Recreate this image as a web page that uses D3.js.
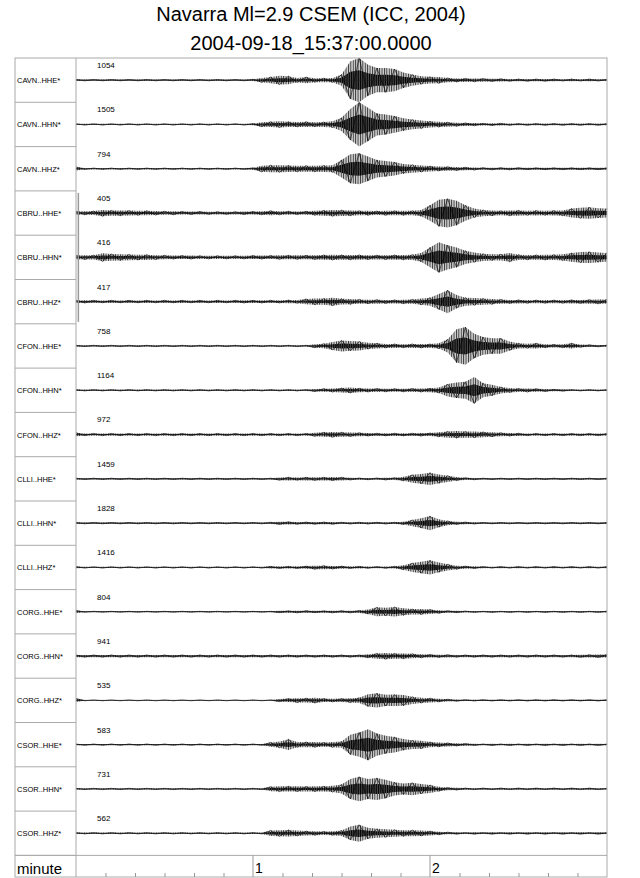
<!DOCTYPE html>
<html>
<head>
<meta charset="utf-8">
<script src="https://cdn.jsdelivr.net/npm/d3@7"></script>
<style>
  body { margin: 0; background: #fff; }
  text { font-family: "Liberation Sans", Arial, sans-serif; }
</style>
</head>
<body>
<div id="chart"></div>
<script>
// envelope of each trace, one value every 3 s (0..180 s), amplitude in % of half a row
var sampleStep = 3;
var stations = ["CAVN..HHE*", "CAVN..HHN*", "CAVN..HHZ*",
                "CBRU..HHE*", "CBRU..HHN*", "CBRU..HHZ*",
                "CFON..HHE*", "CFON..HHN*", "CFON..HHZ*",
                "CLLI..HHE*", "CLLI..HHN*", "CLLI..HHZ*",
                "CORG..HHE*", "CORG..HHN*", "CORG..HHZ*",
                "CSOR..HHE*", "CSOR..HHN*", "CSOR..HHZ*"];
var maxCounts = [1054, 1505, 794, 405, 416, 417, 758, 1164, 972,
                 1459, 1828, 1416, 804, 941, 535, 583, 731, 562];

var cavnHHE = [3,3,3,3,3,3,3,3,3,3,3,3,3,3,3,3,3,3,3,3,4,10,14,20,18,10,14,9,9,10,25,85,100,70,55,55,50,35,25,18,15,14,10,8,8,7,7,6,6,5,5,5,5,5,5,4,5,4,5,4,4];
var cavnHHN = [3,3,3,3,3,3,3,3,3,3,3,3,3,3,3,3,3,3,3,3,4,10,12,14,12,11,12,10,11,14,30,70,100,75,50,45,38,28,22,18,14,12,10,8,7,6,5,5,5,4,4,4,4,4,4,4,4,4,4,4,4];
var cavnHHZ = [8,3,3,3,3,3,3,3,3,3,3,3,3,3,3,3,3,3,3,3,4,14,16,16,15,14,14,14,15,16,40,65,70,55,40,35,30,22,18,15,12,10,9,8,7,6,5,5,5,5,5,4,4,4,4,4,4,4,4,4,4];
var cbruHHE = [8,8,9,14,12,12,11,10,10,9,8,8,7,7,7,6,6,6,6,7,7,8,10,8,8,7,8,10,12,14,13,12,10,10,9,10,10,10,10,14,35,60,65,55,35,20,14,12,10,12,12,10,11,10,11,12,20,24,26,22,20];
var cbruHHN = [9,10,10,18,15,14,13,12,12,10,9,8,8,8,7,7,7,7,7,7,8,8,8,9,9,9,9,10,11,12,11,11,11,10,10,10,11,11,12,20,45,68,55,45,30,22,16,14,14,20,12,11,11,12,12,14,20,24,25,22,20];
var cbruHHZ = [6,6,6,5,6,5,6,5,6,5,6,5,6,5,6,5,6,5,6,6,6,6,6,6,7,7,12,14,14,18,13,12,10,9,9,8,8,9,10,14,18,35,52,30,18,16,14,12,10,8,8,7,7,7,7,7,8,8,9,10,10];
var cfonHHE = [3,3,3,3,3,3,3,3,3,3,3,3,3,3,3,3,3,3,3,3,3,3,3,3,3,3,3,8,10,18,25,22,20,14,12,9,9,8,9,9,9,12,30,75,85,55,40,35,35,20,12,10,12,8,7,8,12,6,5,4,4];
var cfonHHN = [3,3,3,3,3,3,3,3,3,3,3,3,3,3,3,3,3,3,3,3,3,3,3,3,3,3,3,6,7,8,10,12,9,8,8,7,7,7,8,8,9,12,28,35,38,60,32,25,15,10,8,8,7,6,4,4,3,3,3,3,3];
var cfonHHZ = [8,5,5,5,5,5,5,5,5,5,5,5,5,5,5,5,5,5,5,5,5,5,5,5,5,5,5,8,10,12,10,9,8,7,6,6,6,6,6,7,7,10,14,16,14,14,12,10,8,7,6,5,5,5,5,5,5,5,5,5,5];
var clliHHE = [3,3,3,3,3,3,3,3,3,3,3,3,3,3,3,3,3,3,3,3,3,3,3,6,7,6,7,7,7,8,7,5,4,4,4,5,5,9,18,22,28,20,14,8,5,4,3,3,3,3,3,3,3,3,3,3,3,3,3,3,3];
var clliHHN = [3,3,3,3,3,3,3,3,3,3,3,3,3,3,3,3,3,3,3,3,3,3,4,6,6,5,5,5,5,5,4,4,4,4,4,4,4,6,14,22,32,18,10,6,5,4,3,3,3,3,3,3,3,3,3,3,3,3,3,3,3];
var clliHHZ = [4,3,3,3,3,3,3,3,3,3,3,3,3,3,3,3,3,3,3,3,3,3,5,5,5,5,6,8,8,7,6,5,5,4,4,4,5,10,20,26,32,22,14,8,6,5,4,3,4,3,4,3,4,3,4,3,4,3,4,3,4];
var corgHHE = [6,2,2,2,2,2,2,2,2,2,2,2,2,2,2,2,2,2,2,2,2,2,2,4,4,5,5,4,4,5,5,5,6,10,20,18,22,16,12,12,10,7,5,4,3,3,2,3,2,3,2,3,2,3,2,3,2,3,2,3,3];
var corgHHN = [5,5,5,5,5,5,5,5,5,5,5,5,5,5,5,5,5,5,5,5,5,5,5,5,5,5,5,5,5,5,5,5,5,8,12,14,12,12,10,8,7,6,6,5,5,5,5,5,5,5,5,5,5,5,5,5,5,6,6,7,7];
var corgHHZ = [8,2,2,2,2,2,2,2,2,2,2,2,2,2,2,2,2,2,2,2,2,2,2,6,8,10,10,12,8,7,8,10,12,28,32,25,26,24,16,12,10,7,5,4,3,3,3,3,3,3,3,3,3,3,3,3,3,3,3,3,3];
var csorHHE = [3,3,3,3,3,3,3,3,3,3,3,3,3,3,3,3,3,3,3,3,3,3,10,14,24,12,12,12,10,12,14,45,55,70,50,40,35,25,20,18,12,10,8,6,5,4,3,4,3,4,3,4,3,4,3,4,3,4,3,4,3];
var csorHHN = [3,3,3,3,3,3,3,3,3,3,3,3,3,3,3,3,3,3,3,3,3,3,10,12,12,12,11,12,12,14,20,45,55,45,50,42,30,25,28,22,18,10,6,5,4,3,4,3,4,3,4,3,4,3,4,3,4,3,4,3,3];
var csorHHZ = [3,3,3,3,3,3,3,3,3,3,3,3,3,3,3,3,3,3,3,3,3,3,12,14,15,12,10,9,8,9,12,30,38,25,20,18,16,14,14,12,10,7,5,4,3,4,3,4,3,4,3,4,3,4,3,4,3,4,3,4,3];

var traces = [cavnHHE, cavnHHN, cavnHHZ, cbruHHE, cbruHHN, cbruHHZ,
              cfonHHE, cfonHHN, cfonHHZ, clliHHE, clliHHN, clliHHZ,
              corgHHE, corgHHN, corgHHZ, csorHHE, csorHHN, csorHHZ];

var minuteTicks = [1, 2];

// Width and height
var w = 640;
var h = 878;
var padL = 15, labelW = 61, padR = 607, plotTop = 58;
var plotBottom = 855.4;

var svg = d3.select("#chart")
    .append("svg")
    .attr("width", w)
    .attr("height", h);

// hatch patterns to imitate dense oscillation
var defs = svg.append("defs");
var patL = defs.append("pattern")
    .attr("id", "wigLight")
    .attr("patternUnits", "userSpaceOnUse")
    .attr("width", 2.4)
    .attr("height", 4);
patL.append("rect").attr("width", 2.4).attr("height", 4).attr("fill", "#d0d0d0");
patL.append("rect").attr("width", 0.9).attr("height", 4).attr("fill", "#333");
var patD = defs.append("pattern")
    .attr("id", "wigDark")
    .attr("patternUnits", "userSpaceOnUse")
    .attr("width", 1.8)
    .attr("height", 4);
patD.append("rect").attr("width", 1.8).attr("height", 4).attr("fill", "#555");
patD.append("rect").attr("width", 1).attr("height", 4).attr("fill", "#000");

// time in seconds
var x = d3.scaleLinear().domain([0, 180]).range([padL + labelW, padR]);
var y = d3.scaleBand().domain(stations).range([plotTop, plotBottom]);

svg.append("text")
    .attr("x", (padL + padR) / 2)
    .attr("y", 21)
    .attr("text-anchor", "middle")
    .attr("font-size", "20px")
    .text("Navarra Ml=2.9 CSEM (ICC, 2004)");
svg.append("text")
    .attr("x", (padL + padR) / 2)
    .attr("y", 50)
    .attr("text-anchor", "middle")
    .attr("font-size", "20px")
    .text("2004-09-18_15:37:00.0000");

// label boxes
svg.selectAll("line.sep")
    .data(stations)
    .enter()
    .append("line")
    .attr("class", "sep")
    .attr("x1", padL)
    .attr("x2", padL + labelW)
    .attr("y1", function(d) { return y(d) + y.bandwidth(); })
    .attr("y2", function(d) { return y(d) + y.bandwidth(); })
    .attr("stroke", "#aaa");

var rows = svg.selectAll("g.row")
    .data(stations)
    .enter()
    .append("g")
    .attr("class", "row");

rows.append("text")
    .attr("x", padL + 2)
    .attr("y", function(d) { return y(d) + y.bandwidth() / 2 + 3; })
    .attr("font-size", "7.5px")
    .text(function(d) { return d; });

rows.append("text")
    .attr("x", x(0) + 21)
    .attr("y", function(d) { return y(d) + 10; })
    .attr("font-size", "8px")
    .text(function(d, i) { return maxCounts[i]; });

var half = y.bandwidth() / 2;
rows.each(function(st, i) {
  var env = traces[i];
  var mid = y(st) + half;
  var g = d3.select(this);
  var a = d3.scaleLinear().domain([-100, 100]).range([mid + half, mid - half]);
  var outer = d3.area()
      .x(function(d, j) { return x(j * sampleStep); })
      .y0(function(d) { return a(-d); })
      .y1(function(d) { return a(d); });
  var inner = d3.area()
      .x(function(d, j) { return x(j * sampleStep); })
      .y0(function(d) { return a(-d * 0.45); })
      .y1(function(d) { return a(d * 0.45); });
  // zigzag through the envelope samples, alternating sides
  var wiggle = d3.line()
      .x(function(d, j) { return x(j * sampleStep); })
      .y(function(d, j) { return a(j % 2 ? -d : d); });
  g.append("path").attr("d", outer(env)).attr("fill", "url(#wigLight)");
  g.append("path").attr("d", inner(env)).attr("fill", "url(#wigDark)");
  g.append("path").attr("d", wiggle(env))
      .attr("fill", "none")
      .attr("stroke", "#000")
      .attr("stroke-width", 0.6);
  g.append("line")
      .attr("x1", x(0)).attr("x2", x(180))
      .attr("y1", mid).attr("y2", mid)
      .attr("stroke", "#222")
      .attr("stroke-width", 0.5);
});

// start marker of CBRU traces
svg.append("line")
    .attr("x1", x(0.8)).attr("x2", x(0.8))
    .attr("y1", y("CBRU..HHE*") + 2)
    .attr("y2", y("CBRU..HHZ*") + y.bandwidth() - 2)
    .attr("stroke", "#999")
    .attr("stroke-width", 1.5);

// frame
svg.append("rect")
    .attr("x", padL).attr("y", plotTop)
    .attr("width", padR - padL).attr("height", h - 1 - plotTop)
    .attr("fill", "none").attr("stroke", "#aaa");
svg.append("line")
    .attr("x1", x(0)).attr("x2", x(0))
    .attr("y1", plotTop).attr("y2", h - 1)
    .attr("stroke", "#aaa");
svg.append("line")
    .attr("x1", padL).attr("x2", padR)
    .attr("y1", plotBottom).attr("y2", plotBottom)
    .attr("stroke", "#aaa");

// minute axis
var axisY = h - 1;
var xAxis = d3.axisBottom(x)
    .tickValues(d3.range(10, 180, 10).filter(function(s) { return s % 60 != 0; }))
    .tickSize(-4)
    .tickFormat("");
var ax = svg.append("g")
    .attr("transform", "translate(0," + axisY + ")")
    .call(xAxis);
ax.select(".domain").remove();
ax.selectAll(".tick line").attr("stroke", "#999");

svg.selectAll("line.major")
    .data(minuteTicks)
    .enter()
    .append("line")
    .attr("class", "major")
    .attr("x1", function(d) { return x(d * 60); })
    .attr("x2", function(d) { return x(d * 60); })
    .attr("y1", plotBottom)
    .attr("y2", axisY)
    .attr("stroke", "#999");

svg.selectAll("text.major")
    .data(minuteTicks)
    .enter()
    .append("text")
    .attr("class", "major")
    .attr("x", function(d) { return x(d * 60) + 2; })
    .attr("y", axisY - 4)
    .attr("font-size", "14px")
    .text(function(d) { return d; });

svg.append("text")
    .attr("x", padL + 2)
    .attr("y", axisY - 3)
    .attr("font-size", "15px")
    .text("minute");
</script>
</body>
</html>
